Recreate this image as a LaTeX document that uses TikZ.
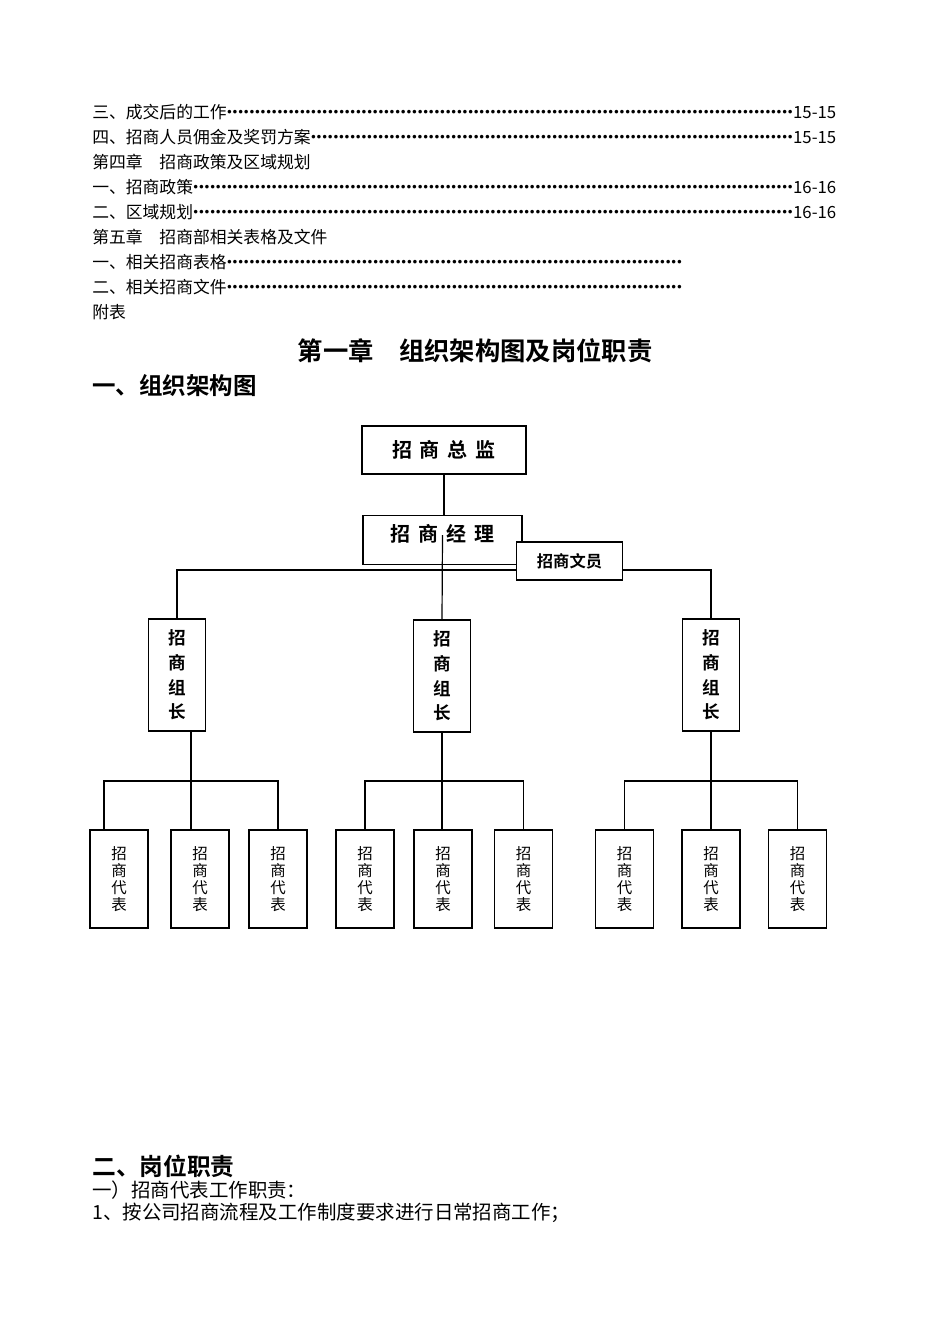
\documentclass[tikz,border=0pt]{standalone}
\usepackage{fontspec}
\setmainfont{Noto Sans CJK SC}[BoldFont={Noto Sans CJK SC Bold}]
\usetikzlibrary{positioning, calc}
\newcommand{\tocdots}{\xleaders\hbox to 4.2pt{\hss·\hss}\hfill}
\newcommand{\chgap}{\hspace{0.4em}}

\begin{document}
\begin{tikzpicture}[
  x=0.75pt, y=-0.75pt,
  every node/.style = {inner sep=0pt},
  toc/.style    = {anchor=west, font=\fontsize{12.6}{15}\selectfont},
  head/.style   = {anchor=west, font=\fontsize{17.6}{21}\selectfont\bfseries},
  body/.style   = {anchor=west, font=\fontsize{14.6}{17}\selectfont},
  box/.style    = {rectangle, draw, line width=0.9pt, fill=white, align=center},
  topbox/.style = {box, font=\fontsize{15}{18}\selectfont\bfseries},
  lead/.style   = {box, minimum width=42.75pt, minimum height=84pt,
                   font=\fontsize{13.2}{18.4}\selectfont\bfseries},
  rep/.style    = {box, minimum width=43.5pt, minimum height=73.5pt,
                   font=\fontsize{11.6}{12.75}\selectfont},
  link/.style   = {line width=0.9pt},
]
\useasboundingbox[fill=white] (0,0) rectangle (950,1344);

% Contents
\node[toc] (toc1) at (92,112) {\hbox to 558pt{三、成交后的工作\tocdots 15-15}};
\node[toc] (toc2) at (92,137) {\hbox to 558pt{四、招商人员佣金及奖罚方案\tocdots 15-15}};
\node[toc] (toc3) at (92,162) {第四章\quad 招商政策及区域规划};
\node[toc] (toc4) at (92,187) {\hbox to 558pt{一、招商政策\tocdots 16-16}};
\node[toc] (toc5) at (92,212) {\hbox to 558pt{二、区域规划\tocdots 16-16}};
\node[toc] (toc6) at (92,237) {第五章\quad 招商部相关表格及文件};
\node[toc] (toc7) at (92,262) {\hbox to 442.5pt{一、相关招商表格\tocdots}};
\node[toc] (toc8) at (92,287) {\hbox to 442.5pt{二、相关招商文件\tocdots}};
\node[toc] (toc9) at (92,312) {附表};

% Headings
\node[font=\fontsize{19}{23}\selectfont\bfseries] (title) at (475,351)
     {第一章\quad 组织架构图及岗位职责};
\node[head] (sec1) at (92,386) {一、组织架构图};

% Nodes
\node[topbox, minimum width=123pt, minimum height=36pt] (dir) at (444,450)
     {招\chgap 商\chgap 总\chgap 监};
\node[topbox, minimum width=119.25pt, minimum height=36.75pt,
      text height=13pt, text depth=10.6pt] (mgr) at (442.5,540)
     {招\chgap 商\chgap 经\chgap 理};

\node[lead] (lead1) at (177,675) {招\\商\\组\\长};
\node[lead] (lead2) at (442,676) {招\\商\\组\\长};
\node[lead] (lead3) at (711,675) {招\\商\\组\\长};

\node[rep] (rep11) at (119,879)   {招\\商\\代\\表};
\node[rep] (rep12) at (200,879)   {招\\商\\代\\表};
\node[rep] (rep13) at (278,879)   {招\\商\\代\\表};
\node[rep] (rep21) at (365,879)   {招\\商\\代\\表};
\node[rep] (rep22) at (443,879)   {招\\商\\代\\表};
\node[rep] (rep23) at (523.5,879) {招\\商\\代\\表};
\node[rep] (rep31) at (624.5,879) {招\\商\\代\\表};
\node[rep] (rep32) at (711,879)   {招\\商\\代\\表};
\node[rep] (rep33) at (797.5,879) {招\\商\\代\\表};

% Links
\coordinate (bus0) at (442,570);
\coordinate (bus1) at (191,781);
\coordinate (bus2) at (442,781);
\coordinate (bus3) at (711,781);

\draw[link] (dir.south) -- (dir.south |- mgr.north);
\draw[link] ([yshift=3.75pt]mgr.center) -- (lead2.north);
\draw[link] (lead1.north) |- (bus0) -| (lead3.north);

\draw[link] ([xshift=-11.25pt]rep11.north) |- (bus1) -| (rep13.north);
\draw[link] ([xshift=10.5pt]lead1.south) -- ([xshift=10.5pt]lead1.south |- rep12.north);
\draw[link] (rep21.north) |- (bus2) -| (rep23.north);
\draw[link] (lead2.south) -- (lead2.south |- rep22.north);
\draw[link] (rep31.north) |- (bus3) -| (rep33.north);
\draw[link] (lead3.south) -- (rep32.north);

% Clerk box over the bus
\node[topbox, minimum width=79.5pt, minimum height=28.5pt,
      font=\fontsize{12.2}{14}\selectfont\bfseries] (clerk) at (569.5,561) {招商文员};

% Duties
\node[head, font=\fontsize{17.8}{21}\selectfont\bfseries] (sec2) at (92,1166) {二、岗位职责};
\node[body] (duty0) at (92,1190) {一）招商代表工作职责：};
\node[body] (duty1) at (92,1213) {1、按公司招商流程及工作制度要求进行日常招商工作；};
\end{tikzpicture}
\end{document}
